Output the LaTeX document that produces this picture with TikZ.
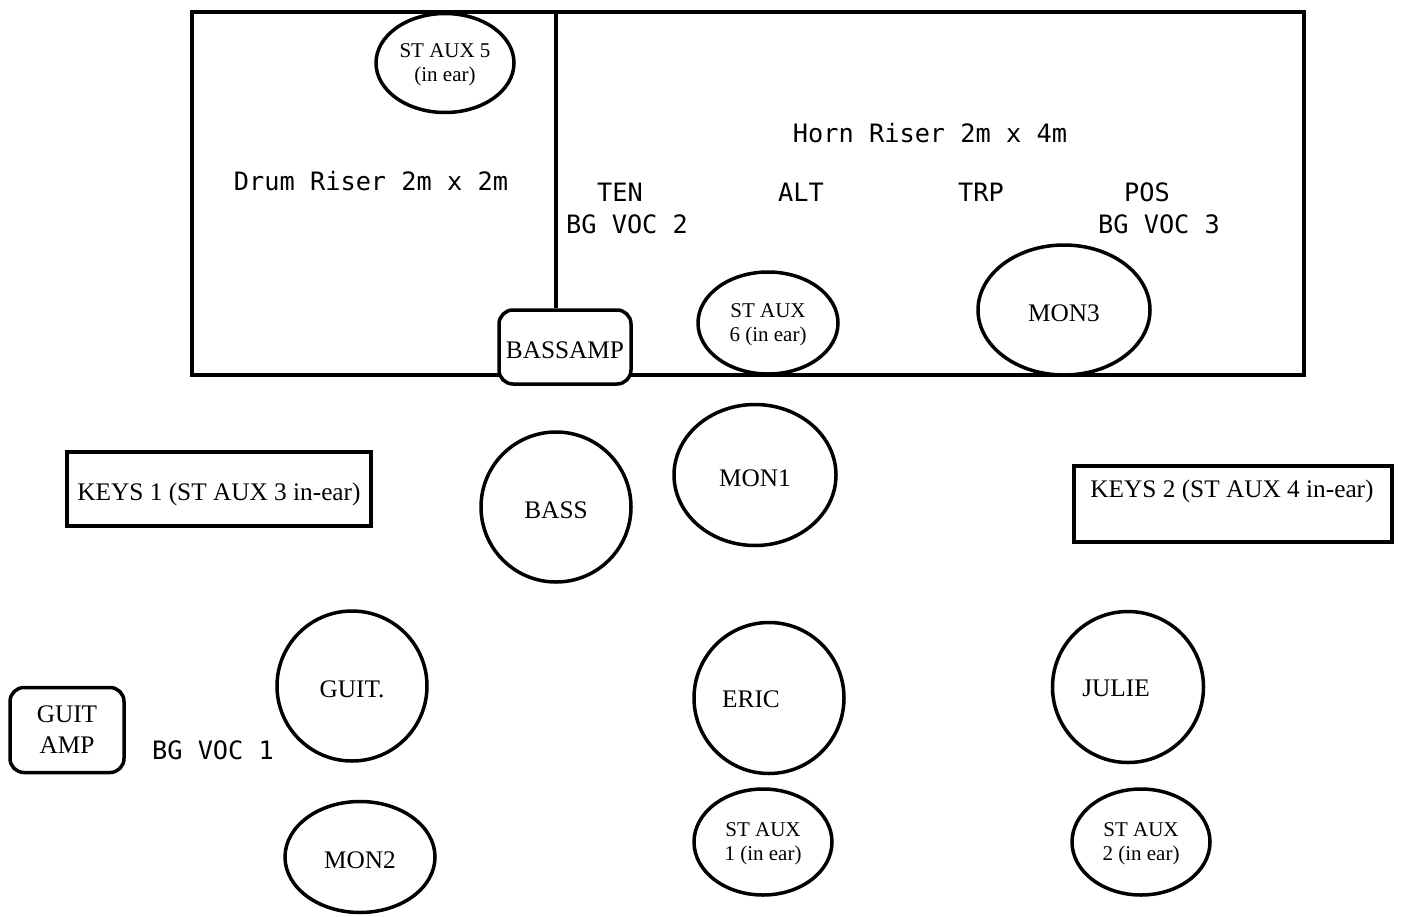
\documentclass[tikz,border=0pt]{standalone}
\usepackage{fontspec}
\setmainfont{Liberation Serif}
\newfontfamily\monof{DejaVu Sans Mono}
\usetikzlibrary{shapes.geometric}
\tikzset{
  shp/.style={draw, line width=3.5pt, fill=white, inner sep=0pt, align=center,
              font=\fontsize{25.3}{24}\selectfont},
  ell/.style={shp, ellipse},
  sqbox/.style={shp, rectangle},
  rbox/.style={shp, rectangle, rounded corners=14pt},
  low/.style={text height=22pt, text depth=0pt},
  auxtxt/.style={font=\fontsize{21}{24}\selectfont, text depth=0pt},
  ser/.style={font=\fontsize{25.3}{24}\selectfont, inner sep=0pt, align=center},
  mono/.style={font=\monof\fontsize{25.3}{32}\selectfont, inner sep=0pt},
}
\begin{document}
\begin{tikzpicture}[x=1pt, y=-1pt]
\useasboundingbox (0,0) rectangle (1403,916);
% risers
\draw[line width=3.5pt] (192,12) rectangle (1304,375);
\coordinate (dtop) at (556,12);
% nodes on riser
\node[rbox, low, minimum width=132pt, minimum height=74pt] (bassamp) at (565,347) {BASSAMP};
\draw[line width=3.5pt] (dtop) -- (dtop |- bassamp.north);
\node[ell, auxtxt, minimum width=138pt, minimum height=99pt] (aux5) at (445,63) {ST AUX 5\\(in ear)};
\node[ell, auxtxt, minimum width=140pt, minimum height=102pt] (aux6) at (768,323) {ST AUX\\6 (in ear)};
\node[ell, low, minimum width=172pt, minimum height=130pt] (mon3) at (1064,310) {MON3};
% riser texts
\node[mono] (drum) at (371,181) {Drum Riser 2m x 2m};
\node[mono] (horn) at (930,133) {Horn Riser 2m x 4m};
\node[mono] (ten) at (620,192) {TEN};
\node[mono] (bgv2) at (627,224) {BG VOC 2};
\node[mono] (alt) at (801,192) {ALT};
\node[mono] (trp) at (981,192) {TRP};
\node[mono] (pos) at (1147,192) {POS};
\node[mono] (bgv3) at (1159,224) {BG VOC 3};
% front line
\node[sqbox, low, minimum width=304pt, minimum height=74pt] (keys1) at (219,489) {KEYS 1 (ST AUX 3 in-ear)};
\node[sqbox, minimum width=318pt, minimum height=76pt] (keys2) at (1233,504) {};
\node[ser] (keys2lbl) at (1232,491) {KEYS 2 (ST AUX 4 in-ear)};
\node[ell, low, minimum width=150pt, minimum height=150pt] (bass) at (556,507) {BASS};
\node[ell, low, minimum width=162pt, minimum height=141pt] (mon1) at (755,475) {MON1};
% downstage
\node[ell, low, minimum width=150pt, minimum height=150pt] (guit) at (352,686) {GUIT.};
\node[rbox, minimum width=114pt, minimum height=85pt] (guitamp) at (67,730) {GUIT\\[7pt]AMP};
\node[mono] (bgv1) at (213,750) {BG VOC 1};
\node[ell, low, minimum width=150pt, minimum height=111pt] (mon2) at (360,857) {MON2};
\node[ell, minimum width=150pt, minimum height=151pt] (eric) at (769,698) {};
\node[ser] (ericlbl) at (751,699) {ERIC};
\node[ell, auxtxt, minimum width=138pt, minimum height=106pt] (aux1) at (763,842) {ST AUX\\1 (in ear)};
\node[ell, minimum width=151pt, minimum height=151pt] (julie) at (1128,687) {};
\node[ser] (julielbl) at (1116,688) {JULIE};
\node[ell, auxtxt, minimum width=138pt, minimum height=106pt] (aux2) at (1141,842) {ST AUX\\2 (in ear)};
\end{tikzpicture}
\end{document}
